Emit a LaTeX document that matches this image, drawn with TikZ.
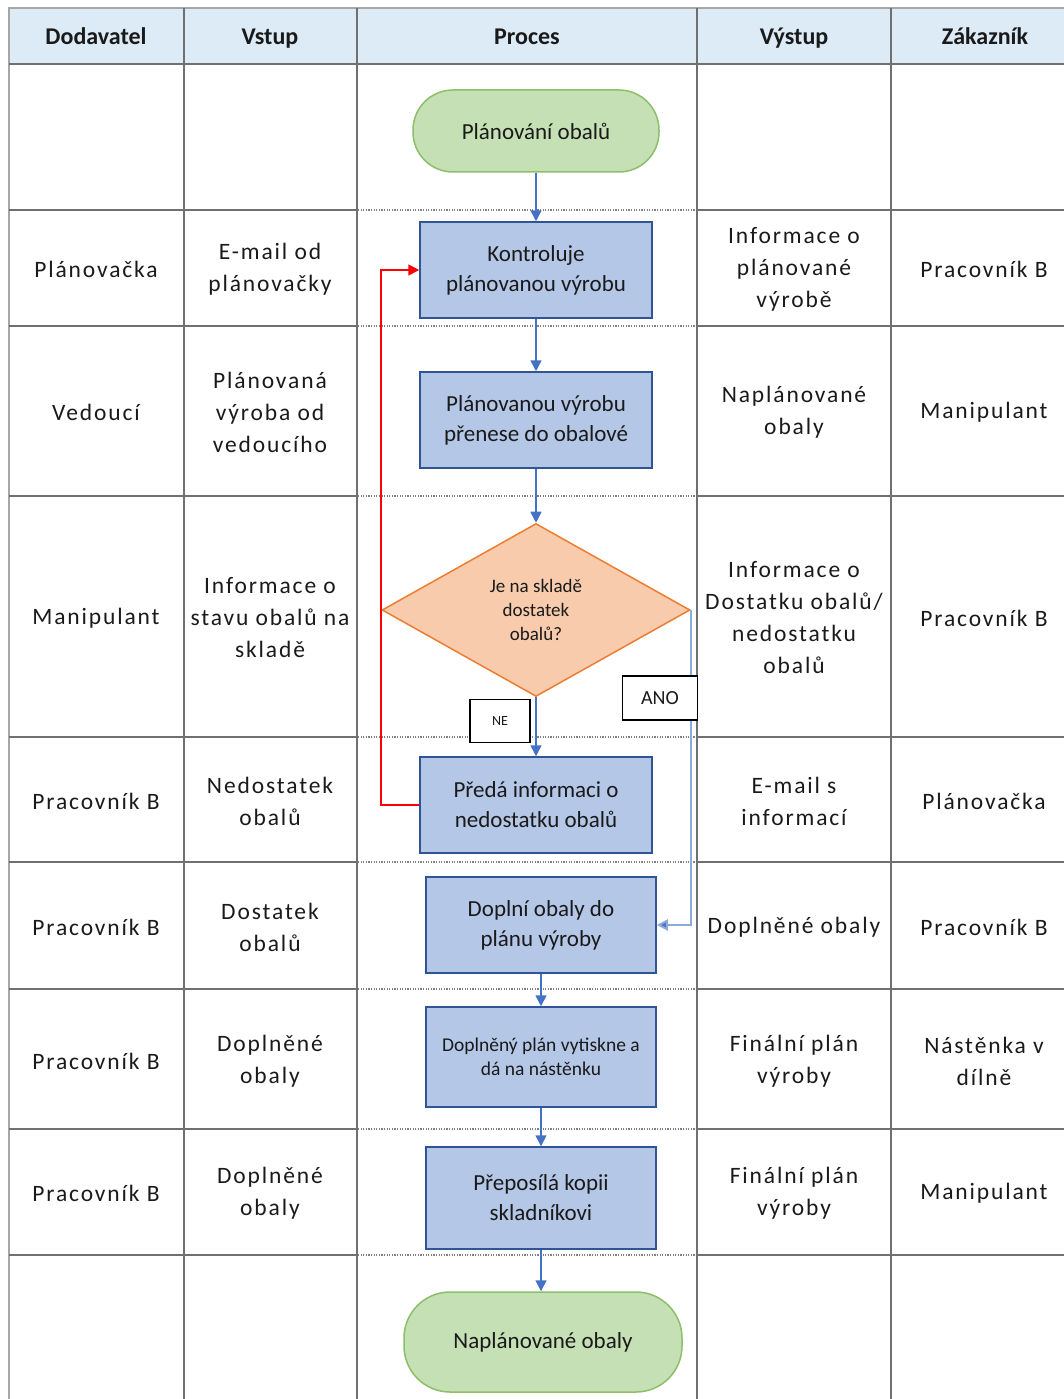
\documentclass[tikz,border=0pt]{standalone}
\usepackage{fontspec}
\setmainfont{Carlito}
\newfontfamily\cellfont[LetterSpace=8]{Carlito}
\usetikzlibrary{shapes.geometric,arrows.meta}
\definecolor{headfill}{HTML}{DDEBF7}
\definecolor{gridline}{HTML}{707070}
\definecolor{outline}{HTML}{A6A6A6}
\definecolor{boxfill}{HTML}{B4C7E7}
\definecolor{boxline}{HTML}{2F5597}
\definecolor{termfill}{HTML}{C5E0B4}
\definecolor{termline}{HTML}{8CBF68}
\definecolor{diafill}{HTML}{F8CBAD}
\definecolor{dialine}{HTML}{ED7D31}
\definecolor{flowblue}{HTML}{4472C4}
\definecolor{yesblue}{HTML}{8EAADB}
\definecolor{txt}{HTML}{1A1A1A}
\tikzset{
  grid/.style={draw=gridline, line width=1.8pt},
  rowsep/.style={draw=gray, line width=1.4pt, dash pattern=on 1.2pt off 1.4pt},
  head/.style={font=\bfseries\fontsize{24}{28}\selectfont, text=txt, text height=16pt, text depth=5pt},
  cell/.style={font=\cellfont\fontsize{23.5}{32}\selectfont, text=txt, align=center},
  stepbox/.style={draw=boxline, fill=boxfill, line width=1.5pt, minimum width=232pt,
    minimum height=96pt, align=center, font=\fontsize{23}{30}\selectfont, text=txt},
  term/.style={draw=termline, fill=termfill, line width=1.5pt, rounded corners=40pt,
    align=center, font=\fontsize{23}{30}\selectfont, text=txt},
  decision/.style={diamond, draw=dialine, fill=diafill, line width=1.5pt, aspect=1.78,
    align=center, font=\fontsize{19}{24}\selectfont, text=txt, inner sep=0pt},
  tag/.style={draw=black, fill=white, line width=1.5pt, text=txt},
  flow/.style={draw=flowblue, line width=1.6pt, -{Triangle[length=11pt,width=11pt]}},
}
\begin{document}
\begin{tikzpicture}[x=1pt,y=-1pt]
\useasboundingbox (0,0) rectangle (1064,1399);
% header band
\fill[headfill] (9,8) rectangle (1064,64);
% outer frame
\draw[outline, line width=1.6pt] (9,1399) -- (9,8) -- (1064,8);
% column rules
\foreach \x in {184,357,697,891} \draw[grid] (\x,8) -- (\x,1399);
\draw[grid] (9,64) -- (1064,64);
% row rules: solid in the side columns, dotted in the process lane
\foreach \y in {210,326,496,737,862,989,1129,1255} {
  \draw[grid] (9,\y) -- (357,\y);
  \draw[grid] (697,\y) -- (1064,\y);
  \draw[rowsep] (358,\y) -- (696,\y);
}
% column heads
\node[head] (h1) at (96,39) {Dodavatel};
\node[head] (h2) at (270,39) {Vstup};
\node[head] (h3) at (527,39) {Proces};
\node[head] (h4) at (794,39) {Výstup};
\node[head] (h5) at (985,39) {Zákazník};
% supplier column
\node[cell] (d1) at (96,269) {Plánovačka};
\node[cell] (d2) at (96,412) {Vedoucí};
\node[cell] (d3) at (96,618) {Manipulant};
\node[cell] (d4) at (96,801) {Pracovník B};
\node[cell] (d5) at (96,927) {Pracovník B};
\node[cell] (d6) at (96,1061) {Pracovník B};
\node[cell] (d7) at (96,1193) {Pracovník B};
% input column
\node[cell] (v1) at (270,269) {E-mail od\\plánovačky};
\node[cell] (v2) at (270,412) {Plánovaná\\výroba od\\vedoucího};
\node[cell] (v3) at (270,618) {Informace o\\stavu obalů na\\skladě};
\node[cell] (v4) at (270,801) {Nedostatek\\obalů};
\node[cell] (v5) at (270,927) {Dostatek\\obalů};
\node[cell] (v6) at (270,1061) {Doplněné\\obaly};
\node[cell] (v7) at (270,1193) {Doplněné\\obaly};
% output column
\node[cell] (o1) at (794,269) {Informace o\\plánované\\výrobě};
\node[cell] (o2) at (794,412) {Naplánované\\obaly};
\node[cell] (o3) at (794,618) {Informace o\\Dostatku obalů/\\nedostatku\\obalů};
\node[cell] (o4) at (794,801) {E-mail s\\informací};
\node[cell] (o5) at (794,927) {Doplněné obaly};
\node[cell] (o6) at (794,1061) {Finální plán\\výroby};
\node[cell] (o7) at (794,1193) {Finální plán\\výroby};
% customer column
\node[cell] (z1) at (984,269) {Pracovník B};
\node[cell] (z2) at (984,412) {Manipulant};
\node[cell] (z3) at (984,618) {Pracovník B};
\node[cell] (z4) at (984,801) {Plánovačka};
\node[cell] (z5) at (984,927) {Pracovník B};
\node[cell] (z6) at (984,1061) {Nástěnka v\\dílně};
\node[cell] (z7) at (984,1193) {Manipulant};
% process lane
\node[term, minimum width=246pt, minimum height=82pt] (start) at (536,131) {Plánování obalů};
\node[stepbox] (k1) at (536,270) {Kontroluje\\plánovanou výrobu};
\node[stepbox] (k2) at (536,420) {Plánovanou výrobu\\přenese do obalové};
\node[decision, minimum width=308pt, minimum height=173pt] (dia) at (536,610) {Je na skladě\\dostatek\\obalů?};
\node[stepbox] (k3) at (536,805) {Předá informaci o\\nedostatku obalů};
\node[stepbox, minimum width=230pt] (k4) at (541,925) {Doplní obaly do\\plánu výroby};
\node[stepbox, minimum width=230pt, minimum height=100pt, font=\fontsize{19.5}{24}\selectfont] (k5) at (541,1057) {Doplněný plán vytiskne a\\dá na nástěnku};
\node[stepbox, minimum width=230pt, minimum height=102pt] (k6) at (541,1198) {Přeposílá kopii\\skladníkovi};
\node[term, minimum width=278pt, minimum height=100pt, rounded corners=46pt] (finish) at (543,1342) {Naplánované obaly};
% flow connectors
\draw[flow] (start) -- (k1);
\draw[flow] (k1) -- (k2);
\draw[flow] (k2) -- (dia);
\draw[flow] (dia) -- (k3);
\draw[flow] (k4) -- (k5);
\draw[flow] (k5) -- (k6);
\draw[flow] (k6.south) -- (k6.south |- finish.north);
\draw[draw=yesblue, line width=2pt, -{Triangle[length=11pt,width=11pt,fill=flowblue]}]
  (dia.east) -- (dia.east |- k4.east) -- (k4.east);
\draw[red, line width=1.6pt, -{Triangle[length=11pt,width=11pt]}]
  (k3.west) -- ++(-38,0) |- (k1.west);
% branch labels
\node[tag, minimum width=75pt, minimum height=44pt, font=\fontsize{20}{22}\selectfont] (ano) at (660,698) {ANO};
\node[tag, minimum width=60pt, minimum height=43pt, font=\fontsize{14}{16}\selectfont] (ne) at (500,721) {NE};
\end{tikzpicture}
\end{document}
